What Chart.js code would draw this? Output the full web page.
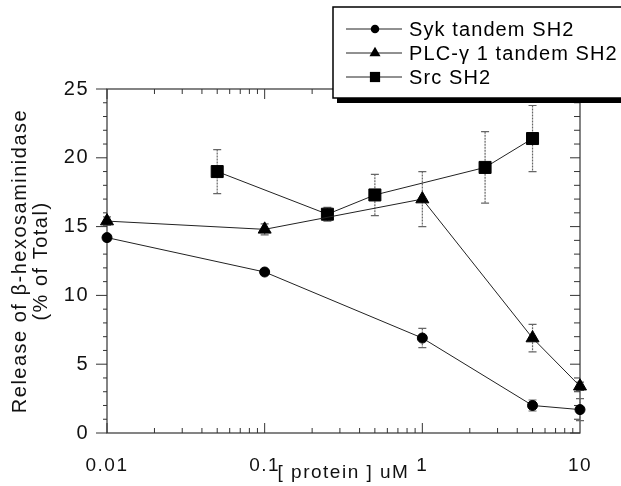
<!DOCTYPE html>
<html>
<head>
<meta charset="utf-8">
<script src="https://cdn.jsdelivr.net/npm/chart.js@4.4.1/dist/chart.umd.min.js"></script>
<style>
    html, body { margin: 0; padding: 0; background: #fff; }
    #chart { display: block; }
</style>
</head>
<body>
<canvas id="chart" width="621" height="486"></canvas>
<script>
// values: [protein] in uM vs % release
const sykConc = [0.01, 0.1, 1, 5, 10];
const sykRelease = [14.2, 11.7, 6.9, 2.0, 1.7];
const sykErr = [0.2, 0.2, 0.7, 0.4, 0.8];

const plcConc = [0.01, 0.1, 1, 5, 10];
const plcRelease = [15.4, 14.8, 17.0, 6.9, 3.4];
const plcErr = [0.3, 0.4, 2.0, 1.0, 0.3];

const srcConc = [0.05, 0.25, 0.5, 2.5, 5];
const srcRelease = [19.0, 15.9, 17.3, 19.3, 21.4];
const srcErr = [1.6, 0.5, 1.5, 2.6, 2.4];

const xTicks = [0.01, 0.1, 1, 10];
const yTicks = [0, 5, 10, 15, 20, 25];
const seriesNames = ['Syk tandem SH2', 'PLC-\u03b3 1 tandem SH2', 'Src SH2'];

const FONT = '"Liberation Sans", Arial, Helvetica, sans-serif';

document.addEventListener('DOMContentLoaded', () => {
    const canvas = document.getElementById('chart');
    if (!canvas) {
        console.error('Canvas element not found!');
        return;
    }

    const series = (label, conc, vals, errs, style, radius) => ({
        label: label,
        data: conc.map((c, i) => ({ x: c, y: vals[i] })),
        errors: errs,
        borderColor: '#222',
        borderWidth: 1,
        pointStyle: style,
        pointRadius: radius,
        pointHoverRadius: radius,
        pointBackgroundColor: '#000',
        pointBorderColor: '#000',
        pointBorderWidth: 1,
        tension: 0,
        clip: false,
    });

    // wider letter spacing like the scanned Helvetica
    const spacing = {
        id: 'spacing',
        beforeDraw(chart) {
            chart.ctx.letterSpacing = '1.5px';
        },
    };

    // box frame + tick marks (minor ones are not labelled)
    const frame = {
        id: 'frame',
        beforeDatasetsDraw(chart) {
            const { ctx, chartArea: a, scales: { x, y } } = chart;
            ctx.save();
            ctx.strokeStyle = '#333';
            ctx.lineWidth = 1.2;
            ctx.strokeRect(a.left, a.top, a.right - a.left, a.bottom - a.top);
            ctx.lineWidth = 1;
            ctx.beginPath();
            for (let v = 0; v <= 25; v++) {
                const py = y.getPixelForValue(v);
                const major = v % 5 === 0;
                ctx.moveTo(a.left - (major ? 11 : 4), py);
                ctx.lineTo(a.left, py);
                ctx.moveTo(a.right, py);
                ctx.lineTo(a.right - (major ? 10 : 6), py);
            }
            for (let e = -2; e <= 0; e++) {
                for (let m = 1; m <= 9; m++) {
                    const px = x.getPixelForValue(m * Math.pow(10, e));
                    const len = m === 1 ? 10 : 5;
                    ctx.moveTo(px, a.bottom);
                    ctx.lineTo(px, a.bottom - len);
                    ctx.moveTo(px, a.top);
                    ctx.lineTo(px, a.top + len);
                }
            }
            ctx.stroke();
            ctx.restore();
        },
    };

    // dotted grey error bars with caps
    const errorBars = {
        id: 'errorBars',
        beforeDatasetsDraw(chart) {
            const { ctx, scales: { x, y } } = chart;
            ctx.save();
            ctx.strokeStyle = '#666';
            ctx.lineWidth = 1.2;
            chart.data.datasets.forEach(ds => {
                ds.data.forEach((p, i) => {
                    const err = ds.errors[i];
                    const px = x.getPixelForValue(p.x);
                    const top = y.getPixelForValue(p.y + err);
                    const bot = y.getPixelForValue(p.y - err);
                    ctx.setLineDash([2, 1]);
                    ctx.beginPath();
                    ctx.moveTo(px, top);
                    ctx.lineTo(px, bot);
                    ctx.stroke();
                    ctx.setLineDash([]);
                    ctx.beginPath();
                    ctx.moveTo(px - 4, top);
                    ctx.lineTo(px + 4, top);
                    ctx.moveTo(px - 4, bot);
                    ctx.lineTo(px + 4, bot);
                    ctx.stroke();
                });
            });
            ctx.restore();
        },
    };

    const drawMarker = (ctx, style, cx, cy, r) => {
        ctx.beginPath();
        if (style === 'circle') {
            ctx.arc(cx, cy, r, 0, Math.PI * 2);
        } else if (style === 'triangle') {
            for (let k = 0; k < 3; k++) {
                const ang = k * 2 * Math.PI / 3;
                ctx.lineTo(cx + Math.sin(ang) * r, cy - Math.cos(ang) * r);
            }
            ctx.closePath();
        } else {
            const h = Math.SQRT1_2 * r;
            ctx.rect(cx - h, cy - h, 2 * h, 2 * h);
        }
        ctx.fill();
    };

    // boxed legend with a heavy drop shadow, top right
    const boxLegend = {
        id: 'boxLegend',
        afterDraw(chart) {
            const ctx = chart.ctx;
            const bx = 333, by = 7, bw = 300, bh = 91;
            ctx.save();
            ctx.fillStyle = '#fff';
            ctx.fillRect(bx, by, bw, bh);
            ctx.fillStyle = '#000';
            ctx.fillRect(bx + 4, by + bh, bw, 5);
            ctx.strokeStyle = '#000';
            ctx.lineWidth = 1.5;
            ctx.strokeRect(bx, by, bw, bh);
            ctx.font = '20px ' + FONT;
            ctx.letterSpacing = '1.1px';
            ctx.textBaseline = 'middle';
            chart.data.datasets.forEach((ds, i) => {
                const ry = 29 + i * 24;
                ctx.strokeStyle = '#222';
                ctx.lineWidth = 1;
                ctx.beginPath();
                ctx.moveTo(346, ry);
                ctx.lineTo(402, ry);
                ctx.stroke();
                ctx.fillStyle = '#000';
                drawMarker(ctx, ds.pointStyle, 375, ry, ds.pointRadius * 0.85);
                ctx.fillText(seriesNames[i], 409, ry + 1);
            });
            ctx.restore();
        },
    };

    new Chart(canvas.getContext('2d'), {
        type: 'line',
        data: {
            datasets: [
                series(seriesNames[0], sykConc, sykRelease, sykErr, 'circle', 5),
                series(seriesNames[1], plcConc, plcRelease, plcErr, 'triangle', 7.5),
                series(seriesNames[2], srcConc, srcRelease, srcErr, 'rect', 8.5),
            ],
        },
        plugins: [spacing, frame, errorBars, boxLegend],
        options: {
            responsive: false,
            animation: false,
            layout: {
                padding: { top: 89, right: 41, left: 0, bottom: 0 },
            },
            plugins: {
                legend: { display: false },
                tooltip: { enabled: false },
            },
            scales: {
                x: {
                    type: 'logarithmic',
                    min: 0.01,
                    max: 10,
                    afterBuildTicks: s => { s.ticks = xTicks.map(v => ({ value: v })); },
                    afterFit: s => { s.height = 53; },
                    grid: { display: false },
                    border: { display: false },
                    ticks: {
                        color: '#111',
                        font: { family: FONT, size: 19 },
                        padding: 13,
                        maxRotation: 0,
                        autoSkip: false,
                        callback: v => String(v),
                    },
                    title: {
                        display: true,
                        text: '[ protein ] uM',
                        color: '#111',
                        font: { family: FONT, size: 19 },
                        padding: { top: 0, bottom: 2 },
                    },
                },
                y: {
                    type: 'linear',
                    min: 0,
                    max: 25,
                    afterBuildTicks: s => { s.ticks = yTicks.map(v => ({ value: v })); },
                    afterFit: s => { s.width = 107; },
                    grid: { display: false },
                    border: { display: false },
                    ticks: {
                        color: '#111',
                        font: { family: FONT, size: 20 },
                        padding: 10,
                        autoSkip: false,
                    },
                    title: {
                        display: true,
                        text: ['Release of \u03b2-hexosaminidase', '(% of Total)'],
                        color: '#111',
                        font: { family: FONT, size: 20, lineHeight: 1.05 },
                        padding: { top: 9.5, bottom: 0 },
                    },
                },
            },
        },
    });
});
</script>
</body>
</html>
